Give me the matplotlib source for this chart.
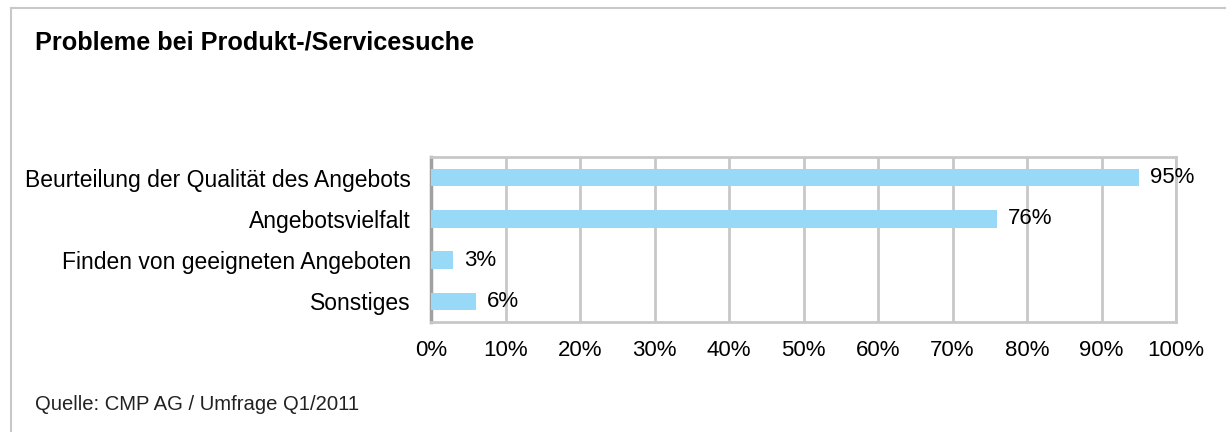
import matplotlib
matplotlib.use("Agg")
import matplotlib.pyplot as plt
from matplotlib.lines import Line2D

categories = ["Beurteilung der Qualität des Angebots", "Angebotsvielfalt",
              "Finden von geeigneten Angeboten", "Sonstiges"]
values = [95, 76, 3, 6]
xticks = [0, 10, 20, 30, 40, 50, 60, 70, 80, 90, 100]
xticklabels = [f"{t}%" for t in xticks]
title = "Probleme bei Produkt-/Servicesuche"
source = "Quelle: CMP AG / Umfrage Q1/2011"

plt.rcParams['font.family'] = ['Liberation Sans', 'DejaVu Sans']

W, H = 1226, 432
fig = plt.figure(figsize=(W / 100, H / 100), dpi=100)
fig.patch.set_facecolor("white")

# outer frame lines (top and left)
fig.add_artist(Line2D([11 / W, 1.0], [1 - 8 / H, 1 - 8 / H], color="#c8c8c8", lw=1.5, transform=fig.transFigure))
fig.add_artist(Line2D([11 / W, 11 / W], [0, 1 - 8 / H], color="#c8c8c8", lw=1.5, transform=fig.transFigure))

left, right, top, bottom = 431, 1176, 157, 322
ax = fig.add_axes([left / W, 1 - bottom / H, (right - left) / W, (bottom - top) / H])

y = list(range(len(categories)))
ax.barh(y, values, height=0.42, color="#99d9f8", zorder=3)
ax.set_ylim(len(categories) - 0.5, -0.5)
ax.set_xlim(0, 100)
ax.set_xticks(xticks)
ax.set_xticklabels(xticklabels, fontsize=16)
ax.set_yticks(y)
ax.set_yticklabels(categories, fontsize=16.5)
ax.tick_params(axis="both", length=0)
ax.tick_params(axis="y", pad=14.5)
ax.tick_params(axis="x", pad=13)
ax.grid(axis="x", color="#c8c8c8", lw=2, zorder=0)
for s in ["top", "right", "bottom"]:
    ax.spines[s].set_color("#c8c8c8")
    ax.spines[s].set_linewidth(2)
ax.spines["left"].set_color("#a0a0a0")
ax.spines["left"].set_linewidth(2.5)

for yi, v in zip(y, values):
    ax.annotate(f"{v}%", (v, yi), xytext=(11, 0), textcoords="offset pixels",
                va="center", ha="left", fontsize=16, color="black")

fig.text(35 / W, 1 - 43 / H, title, fontsize=18.2, fontweight="bold", va="center", ha="left")
fig.text(35 / W, 1 - 405 / H, source, fontsize=14.6, va="center", ha="left", color="#222222")

fig.savefig("out.png", dpi=100, facecolor="white")
